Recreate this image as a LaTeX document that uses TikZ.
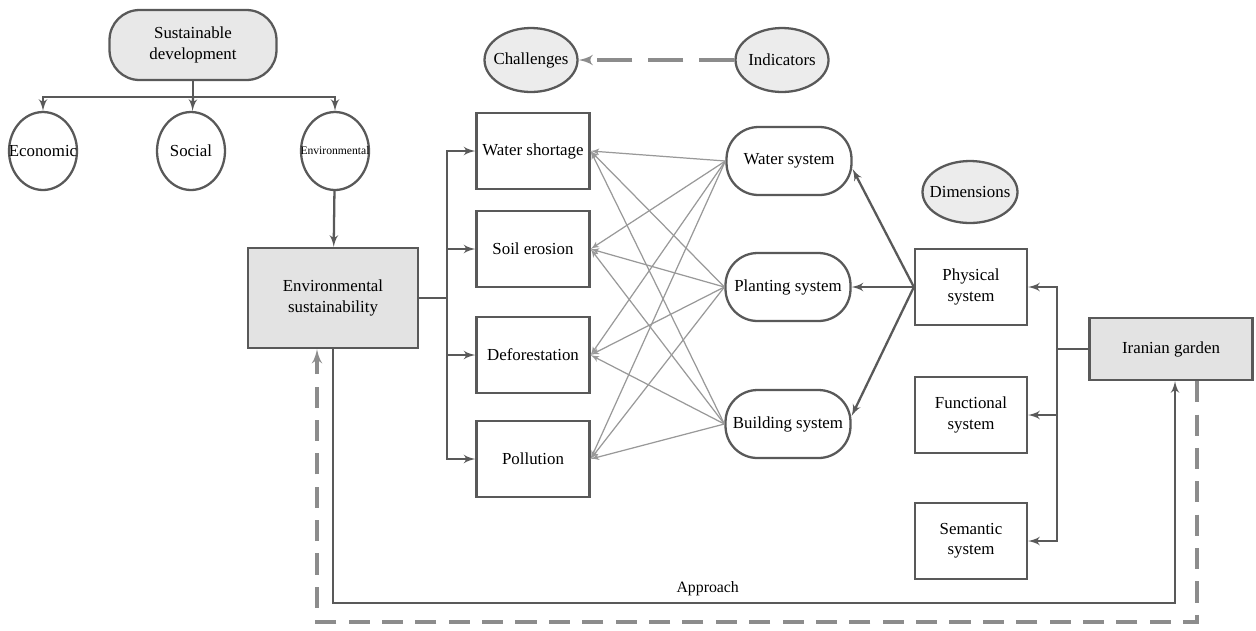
\documentclass[tikz,border=0pt]{standalone}
\usepackage{fontspec}
\setmainfont{Liberation Serif}
\usepackage{xcolor}
\usetikzlibrary{shapes,arrows,positioning,calc,shapes.geometric}
\newcommand{\fit}[1]{\makebox[0pt]{#1}}

\begin{document}
\begin{tikzpicture}[x=0.02cm, y=-0.02cm, >=latex', font=\fontsize{9.6}{11.6}\selectfont]
    \tikzstyle{stadium} = [rectangle, rounded corners=0.64cm, draw=black!65, line width=1.3pt, fill=white, minimum width=2.5cm, minimum height=1.36cm, align=center]
    \tikzstyle{oval} = [ellipse, draw=black!65, line width=1.3pt, fill=white, inner sep=0pt, minimum width=1.36cm, minimum height=1.56cm]
    \tikzstyle{tag} = [ellipse, draw=black!65, line width=1.3pt, fill=gray!15, inner sep=0pt, minimum width=1.86cm, minimum height=1.28cm]
    \tikzstyle{box} = [rectangle, draw=black!65, line width=1.3pt, fill=white, minimum width=2.26cm, minimum height=1.52cm, align=center]
    \tikzstyle{conn} = [draw=black!65, line width=1.3pt]
    \tikzstyle{link} = [draw=black!40, line width=0.7pt, ->]
    \tikzstyle{dashline} = [draw=black!45, line width=1.8pt, dash pattern=on 12pt off 7pt]

    \useasboundingbox (0,0) rectangle (1256,630);

    \node [stadium, fill=gray!18, minimum width=3.34cm, minimum height=1.4cm, rounded corners=0.6cm] (sd) at (193,45) {Sustainable\\development};
    \node [oval] (eco) at (43,151) {\fit{Economic}};
    \node [oval] (soc) at (191,151) {\fit{Social}};
    \node [oval] (env) at (335,151) {\fit{\fontsize{6.6}{8}\selectfont Environmental}};
    \node [box, fill=gray!22, minimum width=3.4cm, minimum height=2cm] (envsust) at (333,298) {Environmental\\sustainability};

    \node [tag] (chal) at (531,60) {\fit{Challenges}};
    \node [tag] (ind) at (782,60) {\fit{Indicators}};
    \node [tag, minimum width=1.9cm, minimum height=1.24cm] (dims) at (970,192) {\fit{Dimensions}};

    \node [box] (ws) at (533,151) {Water shortage};
    \node [box] (se) at (533,249) {Soil erosion};
    \node [box] (df) at (533,355) {Deforestation};
    \node [box] (po) at (533,459) {Pollution};

    \node [stadium] (wsys) at (789,161) {Water system};
    \node [stadium] (psys) at (788,287) {Planting system};
    \node [stadium] (bsys) at (788,424) {Building system};

    \node [box, minimum width=2.24cm] (phys) at (971,287) {Physical\\system};
    \node [box, minimum width=2.24cm] (func) at (971,415) {Functional\\system};
    \node [box, minimum width=2.24cm] (sem) at (971,541) {Semantic\\system};
    \node [box, fill=gray!22, minimum width=3.26cm, minimum height=1.24cm] (garden) at (1171,349) {Iranian garden};

    \coordinate (split) at (193,97);
    \draw [conn] (sd) -- (split);
    \draw [conn, ->] (split) -| (eco);
    \draw [conn, ->] (split) -- (soc);
    \draw [conn, ->] (split) -| (env);
    \draw [conn, ->] (env) -- (envsust);

    \coordinate (bus) at (447,298);
    \draw [conn] (envsust) -- (bus);
    \foreach \c in {ws,se,df,po}
        \draw [conn, ->] (bus) |- (\c);

    \foreach \s in {wsys,psys,bsys}
        \foreach \c in {ws,se,df,po}
            \draw [link] (\s.west) -- (\c.east);

    \draw [conn, ->] (phys.west) -- ([yshift=-0.16cm]wsys.east);
    \draw [conn, ->] (phys.west) -- (psys.east);
    \draw [conn, ->] (phys.west) -- ([yshift=0.16cm]bsys.east);

    \coordinate (gbus) at (1057,349);
    \draw [conn] (garden) -- (gbus);
    \foreach \d in {phys,func,sem}
        \draw [conn, ->] (gbus) |- (\d);

    \draw [dashline, dash pattern=on 20pt off 9pt, ->] (ind) -- (chal);

    \coordinate (a1) at (333,603);
    \coordinate (a2) at (1175,603);
    \draw [conn, ->] (envsust.south) -- (a1) -- node[above, pos=0.445, font=\fontsize{9}{11}\selectfont] (appr) {Approach} (a2) -- (a2 |- garden.south);

    \coordinate (d1) at (1197,622);
    \coordinate (d2) at (317,622);
    \draw [dashline, ->] (d1 |- garden.south) -- (d1) -- (d2) -- (d2 |- envsust.south);
\end{tikzpicture}
\end{document}
